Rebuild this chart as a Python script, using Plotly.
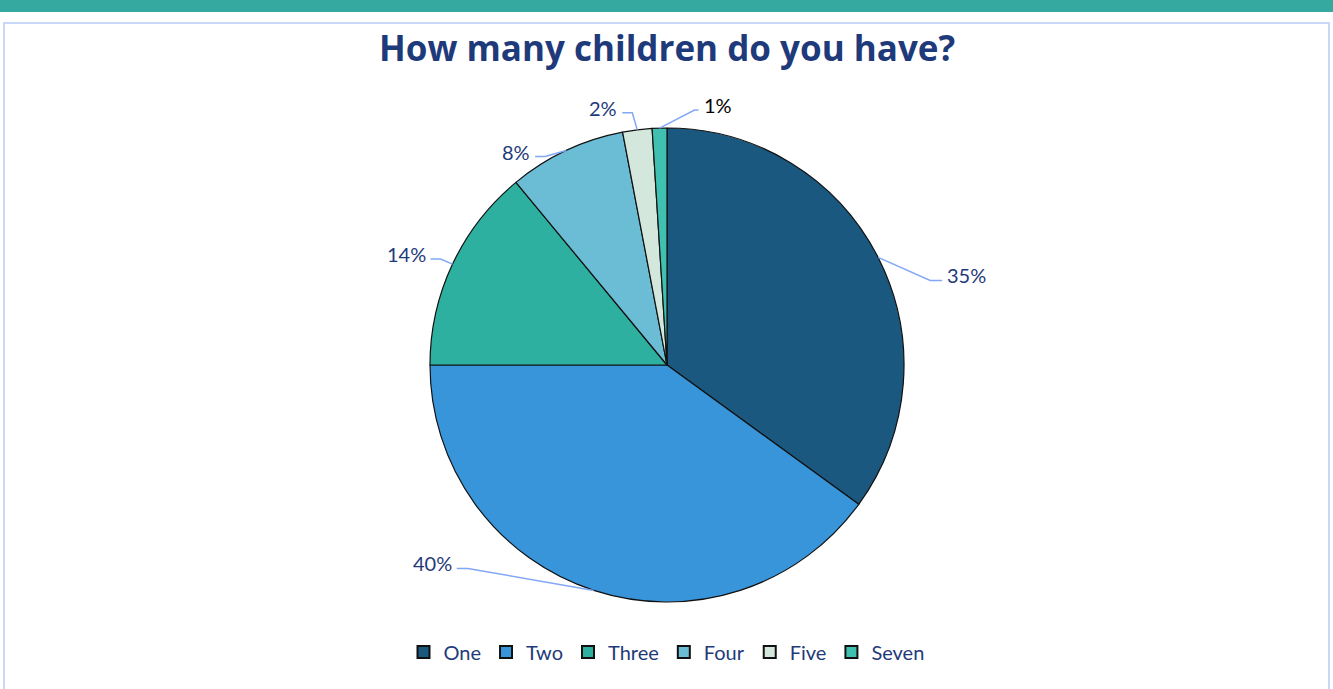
import math
import plotly.graph_objects as go

# ---- data ----
categories = ["One", "Two", "Three", "Four", "Five", "Seven"]
values = [35, 40, 14, 8, 2, 1]
label_texts = ["35%", "40%", "14%", "8%", "2%", "1%"]

# ---- style ----
colors = ["#1a5880", "#3895da", "#2eb0a0", "#6bbcd5", "#d3e7dc", "#40c0b0"]
label_colors = ["#1f3a7a", "#1f3a7a", "#1f3a7a", "#1f3a7a", "#1f3a7a", "#000000"]
# leader line geometry: elbow offset from slice edge (px), end offset from elbow (px), text side
leader = [
    ((52, 23), 12, "left"),
    ((-126, -22), -11, "right"),
    ((-12, -5), -10, "right"),
    ((-21, 6), -10, "right"),
    ((-5, -17), -10, "right"),
    ((35, -18), 4, "left"),
]

W, H = 1333, 689
CX, CY, R = 667, 365, 237

def px(x):
    return x / W

def py(y):
    return 1 - y / H

fig = go.Figure()
fig.add_trace(go.Pie(
    labels=categories,
    values=values,
    sort=False,
    direction="clockwise",
    rotation=0,
    textinfo="none",
    hoverinfo="skip",
    marker=dict(colors=colors, line=dict(color="#111111", width=1.2)),
    domain=dict(x=[px(CX - R), px(CX + R)], y=[py(CY + R), py(CY - R)]),
))

shapes = [
    dict(type="rect", xref="paper", yref="paper", x0=0, x1=1, y0=py(12), y1=1,
         fillcolor="#35a8a0", line=dict(width=0), layer="below"),
    dict(type="rect", xref="paper", yref="paper", x0=px(4), x1=px(1329), y0=py(H + 5), y1=py(23),
         fillcolor="rgba(0,0,0,0)", line=dict(color="#c9d8f8", width=2), layer="below"),
]
annotations = []

total = sum(values)
cum = 0
for i, v in enumerate(values):
    mid = (cum + v / 2) / total * 2 * math.pi
    cum += v
    ex = CX + R * math.sin(mid)
    ey = CY - R * math.cos(mid)
    (edx, edy), endx, side = leader[i]
    bx, by = ex + edx, ey + edy
    tx = bx + endx
    path = f"M {px(ex)},{py(ey)} L {px(bx)},{py(by)} L {px(tx)},{py(by)}"
    shapes.append(dict(type="path", xref="paper", yref="paper", path=path,
                       line=dict(color="#82a8f4", width=1.5)))
    annotations.append(dict(
        x=px(tx + (3 if side == "left" else -3)), y=py(by - 5),
        xref="paper", yref="paper",
        text=label_texts[i], showarrow=False,
        xanchor="left" if side == "left" else "right", yanchor="middle",
        font=dict(family="Lato, Open Sans, sans-serif", size=20, color=label_colors[i]),
    ))

annotations.append(dict(
    x=0.5, y=py(47), xref="paper", yref="paper",
    text="<b>How many children do you have?</b>", showarrow=False,
    xanchor="center", yanchor="middle",
    font=dict(family="Open Sans, sans-serif", size=35, color="#1f3a7a"),
))

fig.update_layout(
    width=W, height=H,
    margin=dict(l=0, r=0, t=0, b=0),
    paper_bgcolor="white",
    plot_bgcolor="white",
    shapes=shapes,
    annotations=annotations,
    showlegend=True,
    legend=dict(
        orientation="h", x=0.5, xanchor="center", y=py(652), yanchor="middle",
        font=dict(family="Lato, Open Sans, sans-serif", size=20, color="#1f3a7a"),
        itemsizing="constant", traceorder="normal",
    ),
)

fig.write_html("out.html")
